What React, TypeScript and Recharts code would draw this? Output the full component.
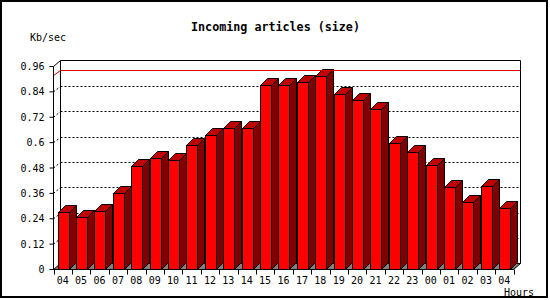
import { Bar, BarChart, CartesianGrid, ReferenceLine, XAxis, YAxis } from "recharts";

// hourly incoming article volume, Kb/sec
const hours = [
  "04", "05", "06", "07", "08", "09", "10", "11", "12", "13", "14", "15", "16",
  "17", "18", "19", "20", "21", "22", "23", "00", "01", "02", "03", "04"
];
const kbPerSec = [
  0.272, 0.249, 0.276, 0.363, 0.49, 0.527, 0.518, 0.589, 0.636, 0.669, 0.671, 0.873, 0.874,
  0.887, 0.917, 0.83, 0.802, 0.761, 0.598, 0.558, 0.495, 0.39, 0.318, 0.394, 0.29
];
const yTicks = [0, 0.12, 0.24, 0.36, 0.48, 0.6, 0.72, 0.84, 0.96];

const rows = hours.map((hour, i) => ({ hour, value: kbPerSec[i] }));
const maxValue = Math.max(...kbPerSec);

const W = 550;
const H = 300;
const PLOT_LEFT = 53.5;
const PLOT_TOP = 66.5;
const PLOT_RIGHT = 513.5;
const PLOT_BOTTOM = 269.5;
const STEP = (PLOT_RIGHT - PLOT_LEFT) / hours.length;
const WALL_DX = 7;
const WALL_DY = 6;
const BAR_DX = 7;
const BAR_DY = 7;
const FONT = "'DejaVu Sans Mono', 'Liberation Mono', monospace";

function Bar3D(props: any) {
  const x = Math.round(props.x) + 0.5;
  const y = Math.round(props.y) + 0.5;
  const w = Math.round(props.width);
  const b = Math.round(props.y + props.height) - 0.5;
  const r = x + w;
  return (
    <g stroke="#000" strokeWidth={1}>
      <polygon points={`${r},${y} ${r + BAR_DX},${y - BAR_DY} ${r + BAR_DX},${b - BAR_DY} ${r},${b}`} fill="#800000" />
      <polygon points={`${x},${y} ${x + BAR_DX},${y - BAR_DY} ${r + BAR_DX},${y - BAR_DY} ${r},${y}`} fill="#c00000" />
      <rect x={x} y={y} width={w} height={b - y} fill="#ff0000" />
    </g>
  );
}

function WallLine(props: any) {
  const { x1, x2, y1 } = props;
  if (Math.abs(y1 - PLOT_TOP) < 1 || Math.abs(y1 - PLOT_BOTTOM) < 1) return <g />;
  const by = Math.round(y1 - WALL_DY) + 0.5;
  return (
    <g stroke="#000" strokeWidth={1} strokeDasharray="2 2">
      <line x1={x1} y1={y1} x2={x1 + WALL_DX} y2={by} />
      <line x1={x1 + WALL_DX} y1={by} x2={x2 + WALL_DX} y2={by} />
    </g>
  );
}

function MaxLine(props: any) {
  const { x1, x2, y1 } = props;
  const by = Math.round(y1 - WALL_DY) + 0.5;
  return (
    <g stroke="#e00000" strokeWidth={1}>
      <line x1={x1} y1={y1} x2={x1 + WALL_DX} y2={by} />
      <line x1={x1 + WALL_DX} y1={by} x2={x2 + WALL_DX} y2={by} />
    </g>
  );
}

function HourTick(props: any) {
  const { x, y, payload, index } = props;
  const axisY = y - 4;
  const left = Math.round(x - STEP / 2) + 0.5;
  const right = Math.round(x + STEP / 2) + 0.5;
  return (
    <g>
      <line x1={left} y1={axisY} x2={left} y2={axisY + 5} stroke="#000" />
      {index === hours.length - 1 ? <line x1={right} y1={axisY} x2={right} y2={axisY + 5} stroke="#000" /> : null}
      <text x={x} y={y + 10} textAnchor="middle" fontFamily={FONT} fontSize={10} fill="#000">
        {payload.value}
      </text>
    </g>
  );
}

function Backdrop() {
  const wl = PLOT_LEFT + WALL_DX;
  const wr = PLOT_RIGHT + WALL_DX;
  const wt = PLOT_TOP - WALL_DY;
  const wb = PLOT_BOTTOM - WALL_DY;
  return (
    <svg width={W} height={H} style={{ position: "absolute", left: 0, top: 0 }}>
      <rect x={1} y={1} width={546} height={296} fill="#fff" stroke="#000" strokeWidth={2} />
      <text x={275.5} y={31} textAnchor="middle" fontFamily={FONT} fontWeight="bold" fontSize={11.7} fill="#000">
        Incoming articles (size)
      </text>
      <text x={30} y={40.5} fontFamily={FONT} fontSize={10} fill="#000">Kb/sec</text>
      <text x={504} y={295.5} fontFamily={FONT} fontSize={10} fill="#000">Hours</text>
      <polygon
        points={`${PLOT_LEFT},${PLOT_BOTTOM} ${PLOT_RIGHT},${PLOT_BOTTOM} ${wr},${wb} ${wl},${wb}`}
        fill="#808080"
        stroke="#000"
      />
      <g stroke="#000" fill="none">
        <line x1={PLOT_LEFT} y1={PLOT_TOP} x2={wl} y2={wt} />
        <line x1={wl} y1={wt} x2={wr} y2={wt} />
        <line x1={wl} y1={wt} x2={wl} y2={wb} />
        <line x1={wr} y1={wt} x2={wr} y2={wb} />
      </g>
    </svg>
  );
}

export default function App() {
  return (
    <div style={{ position: "absolute", left: 0, top: 0, width: W, height: H, background: "#fff" }}>
      <Backdrop />
      <div style={{ position: "absolute", left: 0, top: 0 }}>
        <BarChart
          width={W}
          height={H}
          data={rows}
          margin={{ top: PLOT_TOP, right: W - PLOT_RIGHT, bottom: 0, left: 0.5 }}
          barCategoryGap={0}
        >
          <CartesianGrid vertical={false} horizontal={(p: any) => <WallLine key={p.key} {...p} />} />
          <ReferenceLine y={maxValue} shape={(p: any) => <MaxLine {...p} />} />
          <XAxis
            dataKey="hour"
            interval={0}
            height={H - PLOT_BOTTOM}
            tickLine={false}
            tickSize={4}
            tickMargin={0}
            axisLine={{ stroke: "#000" }}
            tick={(p: any) => <HourTick {...p} />}
          />
          <YAxis
            width={53}
            domain={[0, 0.96]}
            ticks={yTicks}
            tickSize={4}
            tickMargin={5}
            stroke="#000"
            tick={{ fill: "#000", fontSize: 10, fontFamily: FONT }}
          />
          <Bar dataKey="value" barSize={11} shape={(p: any) => <Bar3D {...p} />} isAnimationActive={false} />
        </BarChart>
      </div>
    </div>
  );
}
